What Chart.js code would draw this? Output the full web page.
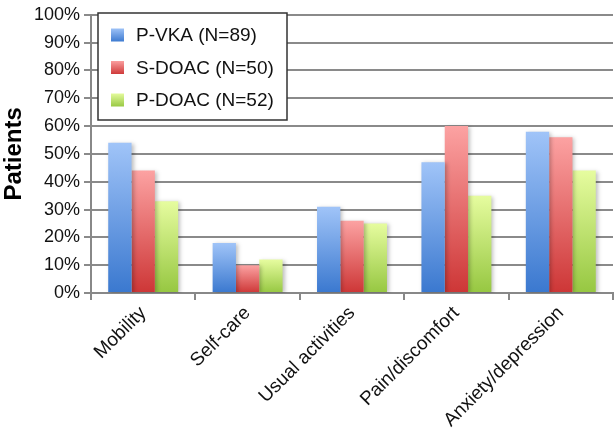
<!DOCTYPE html>
<html>
<head>
<meta charset="utf-8">
<script src="https://cdn.jsdelivr.net/npm/chart.js@4"></script>
<style>
  html, body { margin: 0; padding: 0; background: #fff; }
  #wrap { width: 615px; height: 430px; }
</style>
</head>
<body>
<div id="wrap"><canvas id="chart" width="615" height="430"></canvas></div>
<script>
// --- DATOS ---
const categories = ['Mobility', 'Self-care', 'Usual activities', 'Pain/discomfort', 'Anxiety/depression'];
const seriesNames = ['P-VKA (N=89)', 'S-DOAC (N=50)', 'P-DOAC (N=52)'];
const pVka = [54, 18, 31, 47, 58];
const sDoac = [44, 10, 26, 60, 56];
const pDoac = [33, 12, 25, 35, 44];
const yTicks = [0, 10, 20, 30, 40, 50, 60, 70, 80, 90, 100];

// colores: [arriba, abajo] del degradado de cada serie
const palette = [
    ['#a0c4f8', '#3a78cf'],
    ['#fca2a2', '#cd3636'],
    ['#e6fc9f', '#96c741']
];

// degradado por barra: claro arriba, oscuro abajo
function gradientFor(idx) {
    return (ctx) => {
        const chart = ctx.chart;
        const area = chart.chartArea;
        const y = chart.scales.y;
        if (!area || !y || ctx.raw === undefined) return palette[idx][1];
        const top = y.getPixelForValue(ctx.raw);
        const g = chart.ctx.createLinearGradient(0, top, 0, area.bottom);
        g.addColorStop(0, palette[idx][0]);
        g.addColorStop(1, palette[idx][1]);
        return g;
    };
}

const FONT = "'Liberation Sans', Arial, sans-serif";

// Leyenda dibujada dentro del área del gráfico
const boxLegend = {
    id: 'boxLegend',
    afterDraw(chart) {
        const ctx = chart.ctx;
        const x = 98, y = 13, w = 189, h = 107;
        ctx.save();
        ctx.fillStyle = '#fff';
        ctx.fillRect(x, y, w, h);
        ctx.strokeStyle = '#333';
        ctx.lineWidth = 1.5;
        ctx.strokeRect(x, y, w, h);
        ctx.font = `19px ${FONT}`;
        ctx.textBaseline = 'middle';
        chart.data.datasets.forEach((ds, i) => {
            const cy = 35 + i * 32.5;
            const g = ctx.createLinearGradient(0, cy - 7, 0, cy + 7);
            g.addColorStop(0, palette[i][0]);
            g.addColorStop(1, palette[i][1]);
            ctx.fillStyle = g;
            ctx.fillRect(111, cy - 6.5, 13, 13);
            ctx.fillStyle = '#111';
            ctx.fillText(ds.label, 136, cy + 1);
        });
        ctx.restore();
    }
};

// sombra ligera en las barras
const barShadow = {
    id: 'barShadow',
    beforeDatasetsDraw(chart) {
        const ctx = chart.ctx;
        ctx.save();
        ctx.shadowColor = 'rgba(0,0,0,0.25)';
        ctx.shadowBlur = 4;
        ctx.shadowOffsetX = 2;
        ctx.shadowOffsetY = 1;
    },
    afterDatasetsDraw(chart) {
        chart.ctx.restore();
    }
};

const datasets = [pVka, sDoac, pDoac].map((vals, i) => ({
    label: seriesNames[i],
    data: vals,
    backgroundColor: gradientFor(i),
    borderWidth: 0,
    barPercentage: 1.0,
    categoryPercentage: 0.67
}));

new Chart(document.getElementById('chart'), {
    type: 'bar',
    data: { labels: categories, datasets },
    options: {
        responsive: false,
        animation: false,
        layout: { padding: { top: 0, right: 2, left: 0, bottom: 0 } },
        plugins: {
            legend: { display: false },
            tooltip: { enabled: false }
        },
        scales: {
            x: {
                grid: { drawOnChartArea: false, drawTicks: true, tickLength: 7, color: '#888', lineWidth: 2 },
                border: { color: '#888', width: 2 },
                ticks: {
                    color: '#111',
                    font: { family: FONT, size: 19 },
                    minRotation: 45, maxRotation: 45,
                    padding: 2
                },
                afterFit(scale) { scale.height = 137; }
            },
            y: {
                min: 0, max: 100,
                afterBuildTicks(scale) { scale.ticks = yTicks.map(v => ({ value: v })); },
                grid: { color: '#8a8a8a', lineWidth: 2, tickLength: 7 },
                border: { color: '#888', width: 2 },
                ticks: {
                    color: '#111',
                    font: { family: FONT, size: 18 },
                    padding: 4,
                    callback: v => v + '%'
                },
                title: {
                    display: true,
                    text: 'Patients',
                    color: '#000',
                    font: { family: FONT, size: 24, weight: 'bold' },
                    padding: { top: 0, bottom: 0 }
                },
                afterFit(scale) { scale.width = 91; }
            }
        }
    },
    plugins: [barShadow, boxLegend]
});
</script>
</body>
</html>
